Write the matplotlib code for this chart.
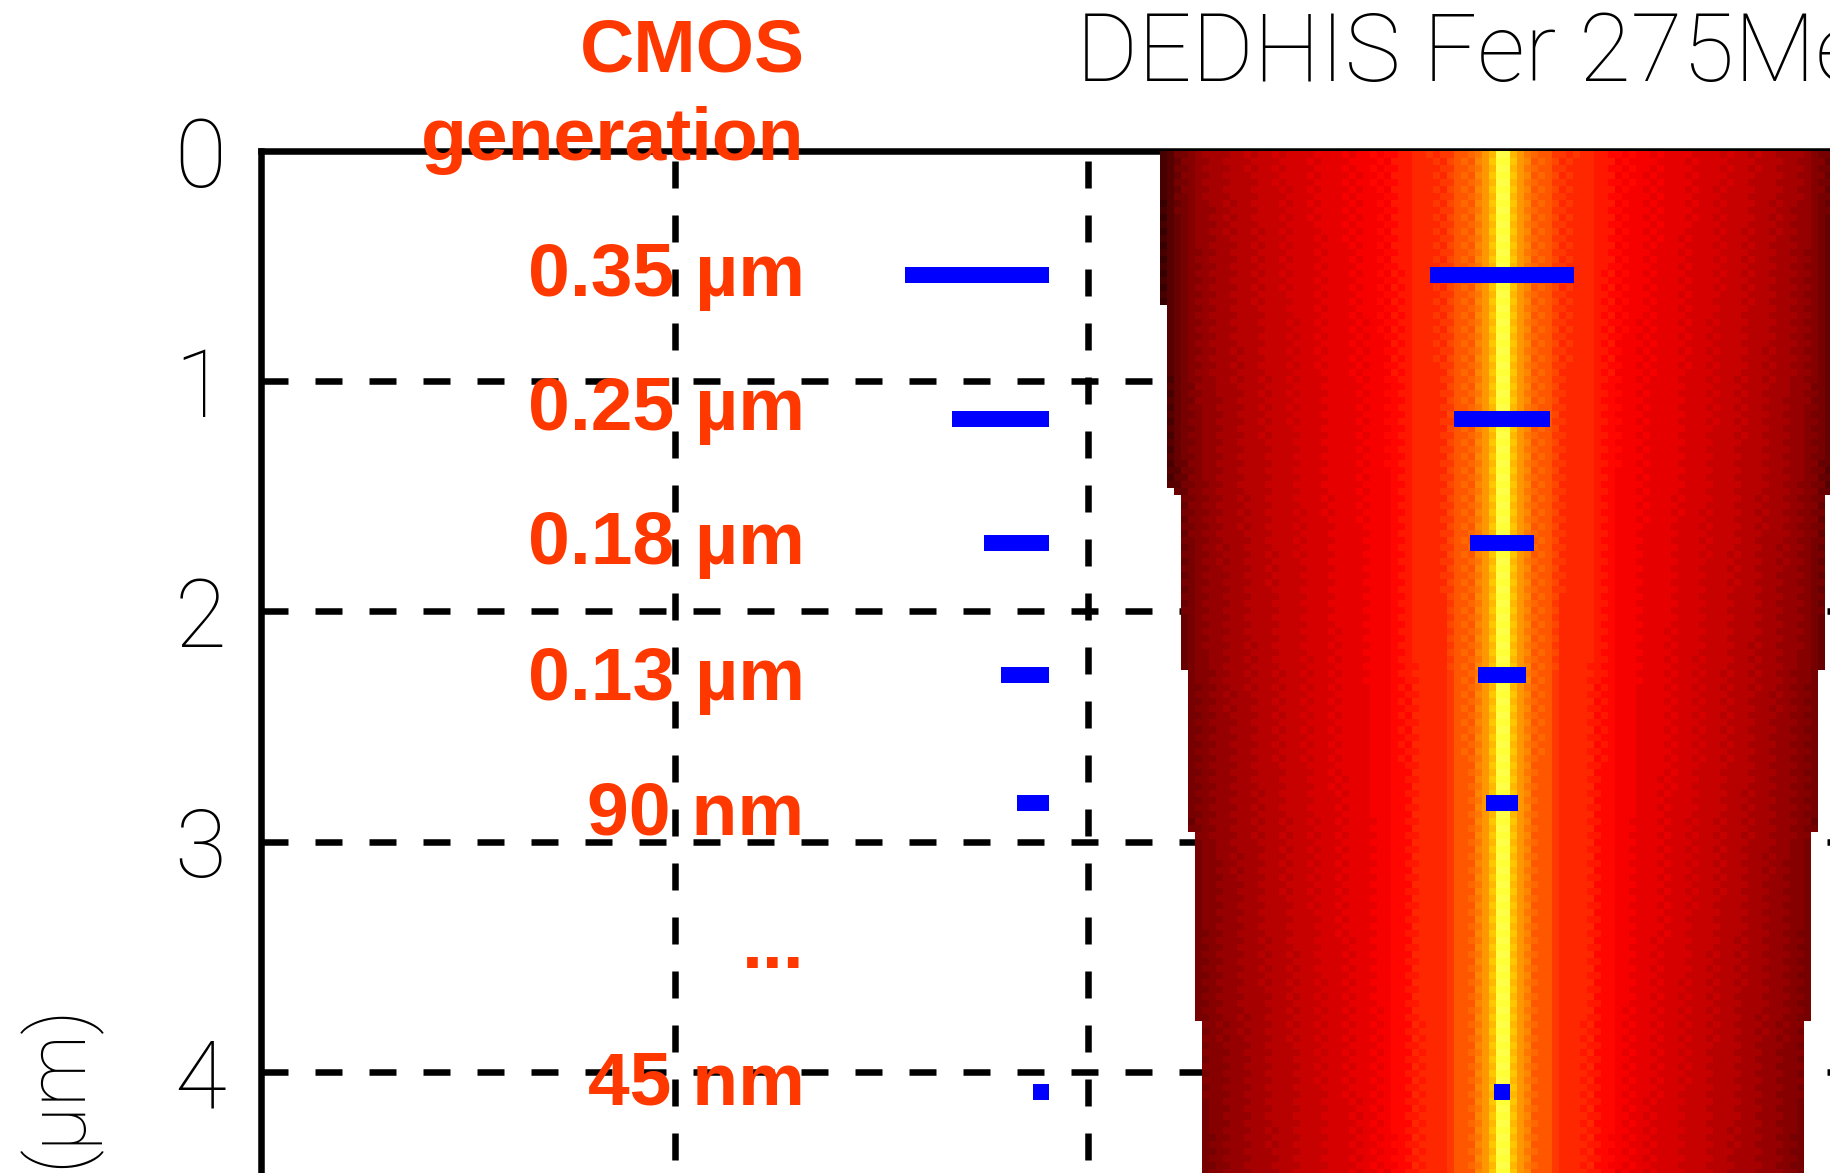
"""
铁离子径迹剂量分布与 CMOS 工艺尺寸对比
"""
import numpy as np
import matplotlib
matplotlib.use('Agg')
import matplotlib.pyplot as plt
from matplotlib.colors import ListedColormap

# 工艺节点
node_labels = ['0.35 µm', '0.25 µm', '0.18 µm', '0.13 µm', '90 nm', '45 nm']
label_depth = [0.628, 1.212, 1.796, 2.383, 2.971, 4.140]
bar_depth = [0.539, 1.166, 1.703, 2.276, 2.832, 4.086]
bar_width = [0.348, 0.233, 0.156, 0.116, 0.077, 0.039]

# 径向剂量 (调色板位置), 从径迹中心向外, 每列 0.0169 µm
radial_level = [
    0.750, 0.584, 0.535, 0.500, 0.462, 0.458, 0.454, 0.417,
    0.396, 0.394, 0.392, 0.390, 0.386, 0.366, 0.360, 0.354,
    0.335, 0.333, 0.330, 0.320, 0.317, 0.314, 0.311, 0.308,
    0.305, 0.298, 0.294, 0.290, 0.286, 0.280, 0.276, 0.272,
    0.268, 0.262, 0.257, 0.252, 0.247, 0.241, 0.235, 0.229,
    0.223, 0.215, 0.207, 0.196, 0.182, 0.165, 0.145, 0.120,
    0.090,
]
col_width = 0.0169
row_height = 0.0304
# 外缘列在某深度以下低于色标下限
tail_cols = [48, 47, 46, 45, 44, 43]
tail_cut = [0.66, 1.45, 1.49, 2.245, 2.95, 3.76]
edge_fade = 0.015
checker = 0.004

ORANGE = '#ff3800'
THIN = ['Roboto', 'DejaVu Sans']


def hot_cmap(n=48):
    t = (np.arange(n) + 0.5) / n
    rgb = np.clip(np.stack([3 * t, 3 * t - 1, 3 * t - 2], axis=1), 0, 1)
    cmap = ListedColormap(rgb)
    cmap.set_bad(alpha=0)
    return cmap


def build_map(depth_max=5.0):
    n_half = len(radial_level)
    n_rows = int(round(depth_max / row_height))
    z = (np.arange(n_rows) + 0.5) * row_height
    r = (np.arange(n_half) + 0.5) * col_width
    half = np.array(radial_level)[None, :] - edge_fade * r[None, :] * z[:, None]
    ii, jj = np.indices(half.shape)
    half = half + checker * np.where((ii + jj) % 2 == 0, 1, -1)

    cut = np.full(n_half, np.inf)
    cut[tail_cols] = tail_cut
    mask_half = z[:, None] > cut[None, :]

    full = np.hstack([half[:, ::-1], half])
    mask = np.hstack([mask_half[:, ::-1], mask_half])
    return np.ma.masked_array(full, mask), n_half * col_width


def plot_track():
    W, H = 1830, 1173
    fig = plt.figure(figsize=(W / 100, H / 100), dpi=100)

    # 坐标轴: x -3..3 µm, 深度 0..5 µm (右侧和底部超出画面)
    x_px, z_px = 413.7, 230.2
    left = 261 / W
    top = 1 - 151 / H
    width = 6 * x_px / W
    height = 5 * z_px / H
    ax = fig.add_axes([left, top - height, width, height])

    img, half_w = build_map()
    ax.imshow(img, cmap=hot_cmap(), vmin=0, vmax=1,
              extent=(-half_w, half_w, 5, 0), origin='upper',
              interpolation='nearest', aspect='auto', zorder=2)

    ax.set_xlim(-3, 3)
    ax.set_ylim(5, 0)

    lw = 4.7
    for name, sp in ax.spines.items():
        sp.set_linewidth(lw)
        sp.set_zorder(1)

    # 网格虚线
    dash = 27 * 0.72 / lw
    for yv in [1, 2, 3, 4]:
        ax.plot([-3, 3], [yv, yv], color='black', lw=lw,
                linestyle=(0, (dash, dash)), zorder=1)
    for xv in [-2, -1, 0, 1, 2]:
        ax.plot([xv, xv], [0, 5], color='black', lw=lw,
                linestyle=(44 * 0.72 / lw, (dash, dash)), zorder=1)

    ax.set_xticks([])
    ax.set_yticks([0, 1, 2, 3, 4])
    ax.set_yticklabels(['0', '1', '2', '3', '4'])
    ax.tick_params(axis='y', length=0, pad=25, labelsize=68)
    for t in ax.get_yticklabels():
        t.set_family(THIN)
        t.set_fontweight('light')

    # 工艺尺寸条: 左侧对齐 + 径迹中心
    bar_h = 0.0695
    right_edge = -1.096
    ax.barh(bar_depth, bar_width, left=[right_edge - w for w in bar_width],
            height=bar_h, color='#0000ff', zorder=4)
    ax.barh(bar_depth, bar_width, left=[-w / 2 for w in bar_width],
            height=bar_h, color='#0000ff', zorder=4)

    label_x = -1.686
    txt = dict(ha='right', va='baseline', fontsize=54, fontweight='bold',
               color=ORANGE, family=['Liberation Sans', 'DejaVu Sans'],
               zorder=5)
    ax.text(label_x, -0.3475, 'CMOS', **txt)
    ax.text(label_x, 0.039, 'generation', **txt)
    for d, s in zip(label_depth, node_labels):
        ax.text(label_x, d, s, **txt)
    ax.text(label_x, 3.549, '...', **txt)

    fig.text(1076 / W, 1 - 81 / H, 'DEDHIS Fer 275MeV', ha='left',
             va='baseline', fontsize=68, family=THIN, fontweight='light')
    fig.text(57 / W, 1 - 1086 / H, '(µm)', rotation=90, ha='center',
             va='center', fontsize=58, family=THIN, fontweight='light')

    fig.savefig('out.png', dpi=100)
    plt.close(fig)


if __name__ == '__main__':
    plot_track()
